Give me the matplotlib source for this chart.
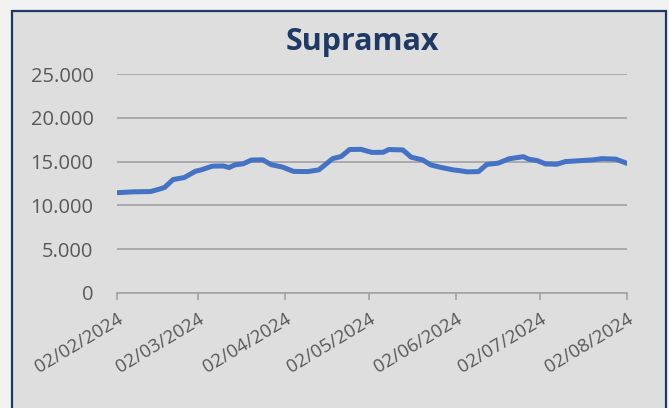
import matplotlib
matplotlib.use("Agg")
import matplotlib.pyplot as plt
import matplotlib.dates as mdates
from matplotlib.patches import Rectangle
from matplotlib.ticker import FuncFormatter
import pandas as pd

dates = ["2024-02-02", "2024-02-08", "2024-02-14", "2024-02-17", "2024-02-19",
         "2024-02-22", "2024-02-26", "2024-03-01", "2024-03-03", "2024-03-07",
         "2024-03-11", "2024-03-13", "2024-03-15", "2024-03-18", "2024-03-21",
         "2024-03-25", "2024-03-28", "2024-04-01", "2024-04-05", "2024-04-10",
         "2024-04-14", "2024-04-19", "2024-04-22", "2024-04-25", "2024-04-29",
         "2024-05-03", "2024-05-07", "2024-05-09", "2024-05-14", "2024-05-17",
         "2024-05-21", "2024-05-24", "2024-05-27", "2024-06-01", "2024-06-03",
         "2024-06-06", "2024-06-10", "2024-06-13", "2024-06-17", "2024-06-21",
         "2024-06-26", "2024-06-28", "2024-07-01", "2024-07-04", "2024-07-08",
         "2024-07-11", "2024-07-16", "2024-07-21", "2024-07-24", "2024-07-29",
         "2024-08-02"]
values = [11450, 11550, 11580, 11850, 12050,
          12950, 13180, 13900, 14050, 14480,
          14500, 14320, 14620, 14750, 15180,
          15200, 14650, 14380, 13880, 13860,
          14050, 15350, 15580, 16380, 16400,
          16050, 16060, 16380, 16330, 15500,
          15200, 14620, 14380, 14050, 13980,
          13830, 13860, 14680, 14820, 15330,
          15560, 15270, 15110, 14730, 14700,
          15000, 15100, 15200, 15340, 15280,
          14800]
tick_dates = ["2024-02-02", "2024-03-02", "2024-04-02", "2024-05-02",
              "2024-06-02", "2024-07-02", "2024-08-02"]
y_ticks = [0, 5000, 10000, 15000, 20000, 25000]
title = "Supramax"

W, H = 669, 408
fig = plt.figure(figsize=(W / 100, H / 100), dpi=100)
fig.patch.set_facecolor("#f2f2f2")

# chart area with navy border (bottom edge runs off the canvas)
fig.patches.append(Rectangle((11.5 / W, -0.1), (666 - 11.5) / W, 1.1 - 11 / H,
                             transform=fig.transFigure, facecolor="#dedede",
                             edgecolor="#1f3864", linewidth=1.6, zorder=-5))

ax = fig.add_axes([117 / W, 1 - 293 / H, (627 - 117) / W, (293 - 74) / H])
ax.set_facecolor("none")
ax.set_zorder(2)

x = pd.to_datetime(dates)
ax.plot(x, values, color="#4472c4", linewidth=3.6, solid_capstyle="round",
        solid_joinstyle="round", zorder=3)

ax.set_xlim(pd.Timestamp(tick_dates[0]), pd.Timestamp(tick_dates[-1]))
ax.set_ylim(0, 25000)
ax.set_yticks(y_ticks)
ax.yaxis.set_major_formatter(FuncFormatter(lambda v, p: "0" if v == 0 else f"{int(v):,}".replace(",", ".")))
ax.set_xticks(pd.to_datetime(tick_dates))
ax.xaxis.set_major_formatter(mdates.DateFormatter("%d/%m/%Y"))

ax.grid(axis="y", color="#a6a6a6", linewidth=1.3)
ax.set_axisbelow(True)
for s in ["top", "right", "left"]:
    ax.spines[s].set_visible(False)
ax.spines["bottom"].set_color("#a6a6a6")
ax.spines["bottom"].set_linewidth(1.3)

ax.tick_params(axis="y", length=0, pad=17, labelsize=14.5, labelcolor="#595959")
ax.tick_params(axis="x", length=5, width=1.3, color="#a6a6a6", direction="out",
               labelsize=13.5, labelcolor="#595959", pad=7)
for lab in ax.get_yticklabels() + ax.get_xticklabels():
    lab.set_family("Open Sans")
for lab in ax.get_xticklabels():
    lab.set_rotation(31)
    lab.set_ha("right")
    lab.set_rotation_mode("anchor")

fig.text(362 / W, 1 - 38.5 / H, title, ha="center", va="center_baseline", fontsize=22,
         fontweight="bold", color="#1f3864", family="Open Sans")

fig.savefig("out.png", dpi=100, facecolor=fig.get_facecolor())
